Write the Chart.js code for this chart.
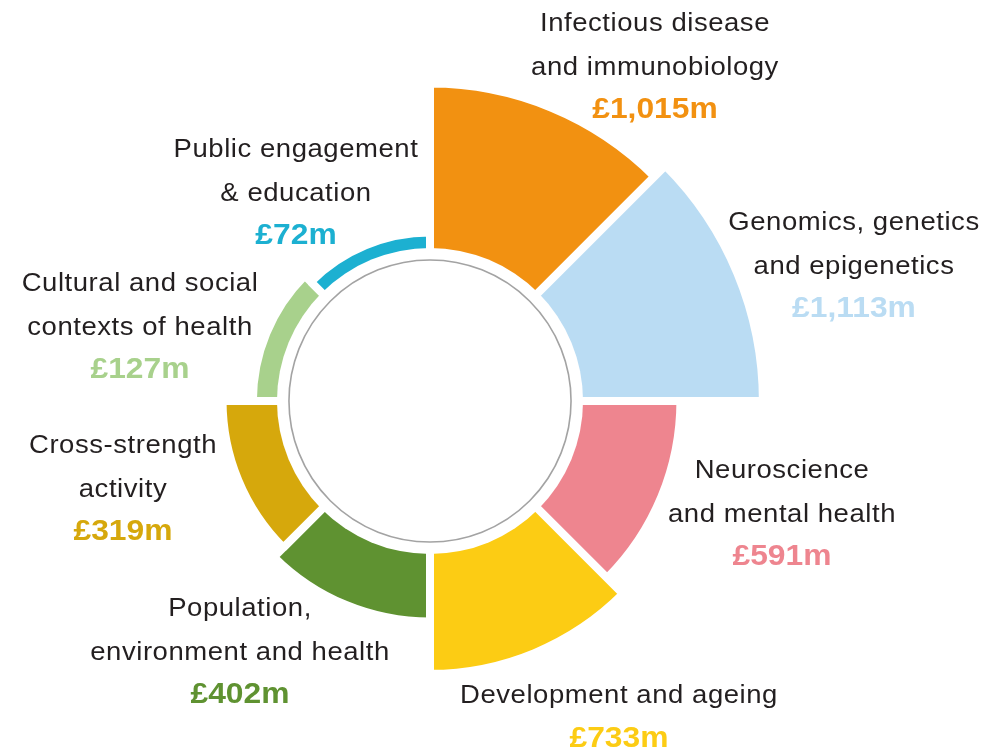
<!DOCTYPE html>
<html>
<head>
<meta charset="utf-8">
<script src="https://cdn.jsdelivr.net/npm/chart.js@4.4.1/dist/chart.umd.min.js"></script>
<style>
  html, body { margin: 0; padding: 0; background: #fff; }
  #wrap { width: 1002px; height: 750px; }
</style>
</head>
<body>
<div id="wrap"><canvas id="chart" width="1002" height="750"></canvas></div>
<script>
/* Funding by area - polar area with white hub */
const categories = [
  ['Infectious disease', 'and immunobiology'],
  ['Genomics, genetics', 'and epigenetics'],
  ['Neuroscience', 'and mental health'],
  ['Development and ageing'],
  ['Population,', 'environment and health'],
  ['Cross-strength', 'activity'],
  ['Cultural and social', 'contexts of health'],
  ['Public engagement', '& education'],
];
const fundingMillions = [1015, 1113, 591, 733, 402, 319, 127, 72];
const segmentColors = ['#f29111', '#badcf3', '#ee858f', '#fccc14', '#5f9231', '#d6a80c', '#a8d18c', '#1cb0d1'];

// where each label block sits: centre x, first baseline
const labelAnchors = [
  [655, 31], [854, 230], [782, 478], [619, 703],
  [240, 616], [123, 453], [140, 291], [296, 157],
];
const LINE_GAP = 43.5;

const fmt = (v) => '£' + v.toLocaleString('en-GB') + 'm';

function wideText(ctx, text, x, y, sx) {
  ctx.save();
  ctx.translate(x, y);
  ctx.scale(sx, 1);
  ctx.fillText(text, 0, 0);
  ctx.restore();
}

const hubAndLabels = {
  id: 'hubAndLabels',
  afterDatasetsDraw(chart) {
    const { ctx } = chart;
    const r = chart.scales.r;
    const hub = r.getDistanceFromCenterForValue(0) - 4;
    ctx.save();
    ctx.fillStyle = '#fff';
    ctx.beginPath();
    ctx.arc(r.xCenter, r.yCenter, hub, 0, Math.PI * 2);
    ctx.fill();
    ctx.strokeStyle = '#a3a3a3';
    ctx.lineWidth = 1.6;
    ctx.beginPath();
    ctx.arc(r.xCenter, r.yCenter, hub - 12, 0, Math.PI * 2);
    ctx.stroke();
    ctx.restore();
  },
  afterDraw(chart) {
    const { ctx } = chart;
    ctx.save();
    ctx.textAlign = 'center';
    ctx.textBaseline = 'alphabetic';
    categories.forEach((lines, i) => {
      const [x, y] = labelAnchors[i];
      ctx.font = '25px "Liberation Sans", Arial, sans-serif';
      ctx.letterSpacing = '0.5px';
      ctx.fillStyle = '#231f20';
      lines.forEach((t, j) => wideText(ctx, t, x, y + j * LINE_GAP, 1.1));
      ctx.font = 'bold 30px "Liberation Sans", Arial, sans-serif';
      ctx.letterSpacing = '0px';
      ctx.fillStyle = segmentColors[i];
      wideText(ctx, fmt(fundingMillions[i]), x, y + lines.length * LINE_GAP, 1.06);
    });
    ctx.restore();
  },
};

new Chart(document.getElementById('chart'), {
  type: 'polarArea',
  data: {
    labels: categories.map((c) => c.join(' ')),
    datasets: [{
      data: fundingMillions,
      backgroundColor: segmentColors,
      borderColor: '#ffffff',
      borderWidth: 8,
    }],
  },
  options: {
    responsive: false,
    animation: false,
    layout: { padding: { left: 90, right: 232, top: 61, bottom: 9 } },
    scales: { r: { min: -994, max: 1158, display: false, startAngle: 0 } },
    plugins: { legend: { display: false }, tooltip: { enabled: false } },
  },
  plugins: [hubAndLabels],
});
</script>
</body>
</html>
